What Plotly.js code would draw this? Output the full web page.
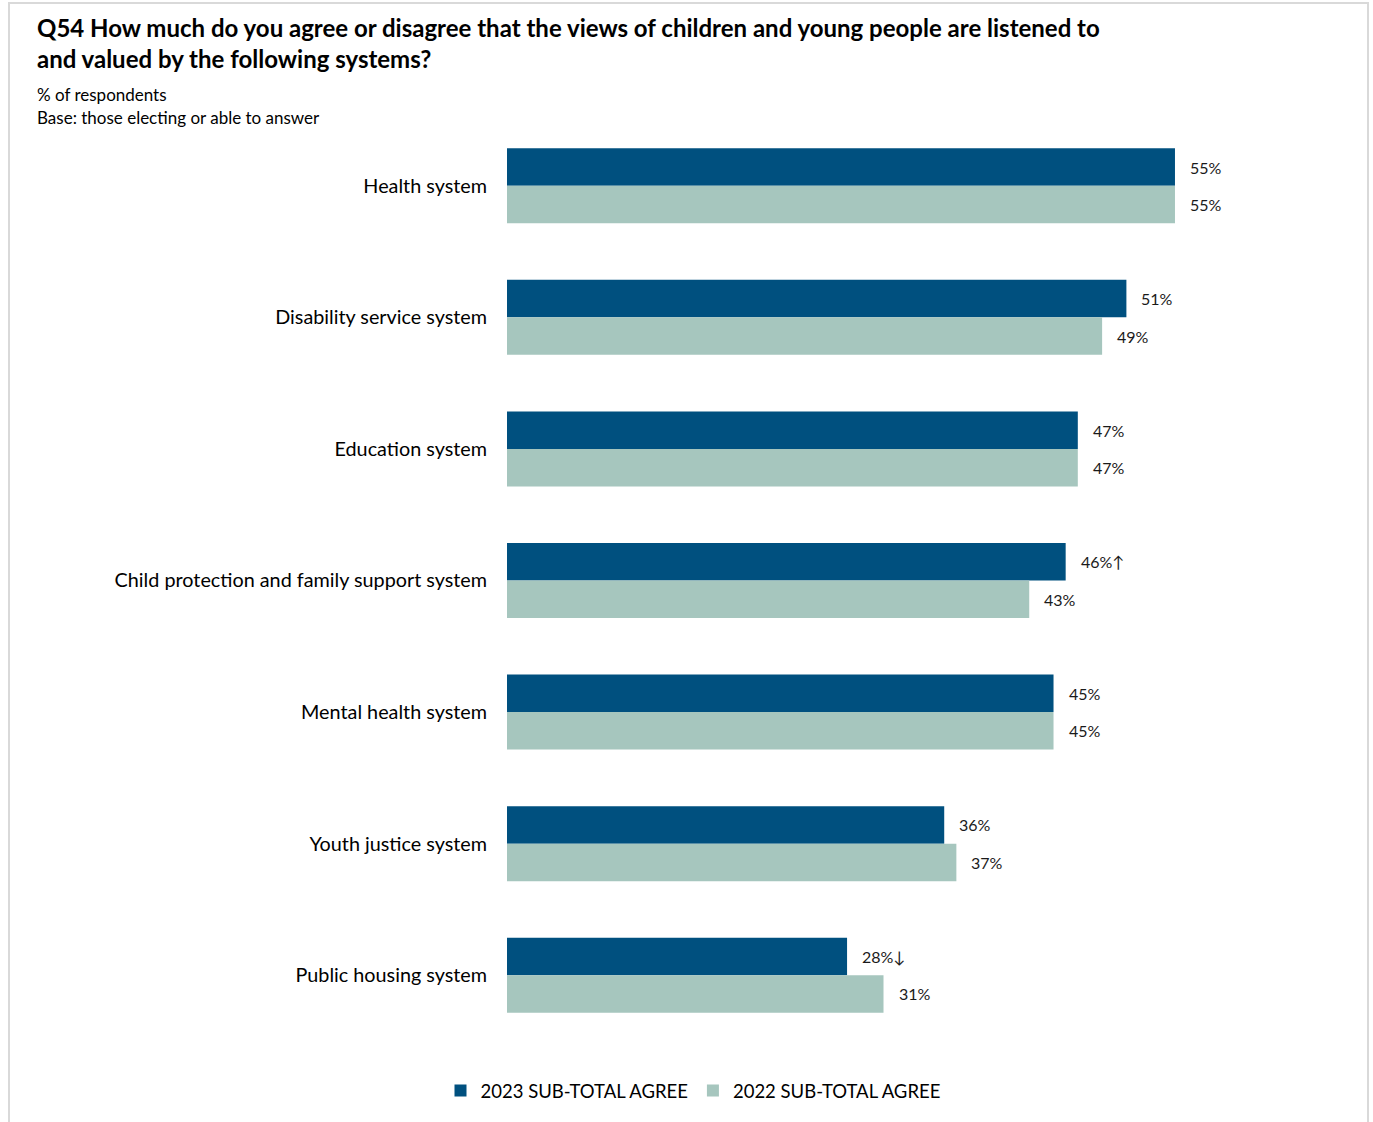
<!DOCTYPE html>
<html>
<head>
<meta charset="utf-8">
<script src="https://cdn.plot.ly/plotly-3.0.1.min.js"></script>
<style>html,body{margin:0;padding:0;background:#fff;}#chart{width:1373px;height:1122px;}</style>
</head>
<body>
<div id="chart"></div>
<script>
const categories = [
  "Health system",
  "Disability service system",
  "Education system",
  "Child protection and family support system",
  "Mental health system",
  "Youth justice system",
  "Public housing system"
];
const values2023 = [55, 51, 47, 46, 45, 36, 28];
const values2022 = [55, 49, 47, 43, 45, 37, 31];
const labels2023 = ["55%", "51%", "47%", "46%\u2191", "45%", "36%", "28%\u2193"];
const labels2022 = ["55%", "49%", "47%", "43%", "45%", "37%", "31%"];
const seriesNames = ["2023 SUB-TOTAL AGREE", "2022 SUB-TOTAL AGREE"];
const titleLines = [
  "Q54 How much do you agree or disagree that the views of children and young people are listened to",
  "and valued by the following systems?"
];
const subtitleLines = ["% of respondents", "Base: those electing or able to answer"];

const FONT = "Lato, 'Open Sans', sans-serif";
const W = 1373, H = 1122;
const L = 507, R = 73, T = 120, B = 81;
const PW = W - L - R, PH = H - T - B;
const px = x => (x - L) / PW;
const py = y => (H - B - y) / PH;

const traces = [
  {type: "bar", orientation: "h", name: seriesNames[0], y: categories, x: values2023,
   marker: {color: "#00507F"}, hoverinfo: "none"},
  {type: "bar", orientation: "h", name: seriesNames[1], y: categories, x: values2022,
   marker: {color: "#A6C6BE"}, hoverinfo: "none"}
];

const annotations = [];
const barHalf = PH / categories.length * 0.57 / 4;
categories.forEach((c, i) => {
  annotations.push({x: values2023[i], y: c, xref: "x", yref: "y", text: labels2023[i], showarrow: false,
    xanchor: "left", yanchor: "middle", xshift: 13, yshift: barHalf, font: {family: FONT, size: 16, color: "#1a1a1a"}});
  annotations.push({x: values2022[i], y: c, xref: "x", yref: "y", text: labels2022[i], showarrow: false,
    xanchor: "left", yanchor: "middle", xshift: 13, yshift: -barHalf, font: {family: FONT, size: 16, color: "#1a1a1a"}});
});
titleLines.forEach((t, i) => {
  annotations.push({xref: "paper", yref: "paper", x: px(35), y: py(28 + i * 31), text: "<b>" + t + "</b>",
    showarrow: false, xanchor: "left", yanchor: "middle", font: {family: FONT, size: 24, color: "#000"}});
});
subtitleLines.forEach((t, i) => {
  annotations.push({xref: "paper", yref: "paper", x: px(35), y: py(95 + i * 22), text: t,
    showarrow: false, xanchor: "left", yanchor: "middle", font: {family: FONT, size: 17, color: "#000"}});
});

const layout = {
  width: W, height: H,
  margin: {l: L, r: R, t: T, b: B, pad: 0},
  paper_bgcolor: "#fff", plot_bgcolor: "#fff",
  barmode: "group", bargap: 0.43, bargroupgap: 0,
  showlegend: true,
  legend: {orientation: "h", x: px(693), xanchor: "center", y: py(1091), yanchor: "middle",
    font: {family: FONT, size: 18.5, color: "#000"}, traceorder: "normal", itemwidth: 30},
  xaxis: {range: [0, PW / 12.145], showgrid: false, zeroline: false, showticklabels: false, showline: false, fixedrange: true},
  yaxis: {type: "category", autorange: "reversed", showgrid: false, zeroline: false, showline: false,
    ticks: "outside", ticklen: 15, tickcolor: "rgba(0,0,0,0)",
    tickfont: {family: FONT, size: 19.8, color: "#000"}},
  annotations: annotations,
  shapes: [{type: "rect", xref: "paper", yref: "paper", x0: px(9), x1: px(1368), y0: py(1130), y1: py(3),
    line: {color: "#d9d9d9", width: 2}, fillcolor: "rgba(0,0,0,0)", layer: "below"}]
};

Plotly.newPlot("chart", traces, layout, {displayModeBar: false, staticPlot: true});
</script>
</body>
</html>
